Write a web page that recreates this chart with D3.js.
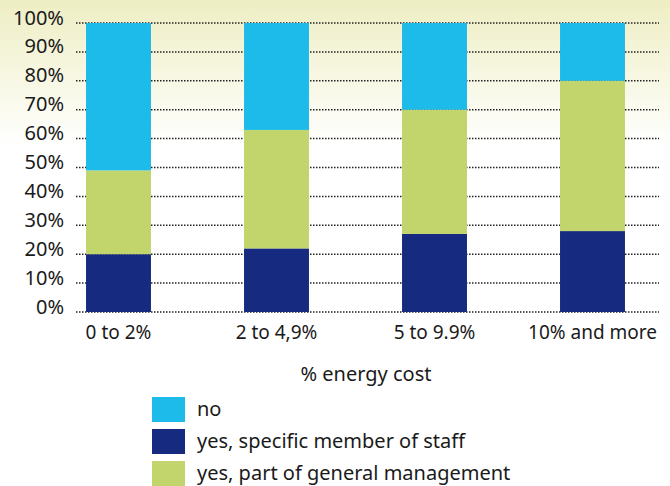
<!DOCTYPE html>
<html>
<head>
<meta charset="utf-8">
<script src="https://cdn.jsdelivr.net/npm/d3@7"></script>
<style>
  html, body { margin: 0; padding: 0; }
  body { width: 670px; height: 486px; overflow: hidden; }
  text { font-family: "Noto Sans", "Open Sans", sans-serif; fill: #1a1a1a; }
</style>
</head>
<body>
<div id="chart"></div>
<script>
var width = 670, height = 486;

// data
var categories = ["0 to 2%", "2 to 4,9%", "5 to 9.9%", "10% and more"];
var staff   = [20, 22, 27, 28];   // yes, specific member of staff
var general = [29, 41, 43, 52];   // yes, part of general management
var no      = [51, 37, 30, 20];   // no
var yTicks  = [0, 10, 20, 30, 40, 50, 60, 70, 80, 90, 100];
var seriesKeys   = ["staff", "general", "no"];
var legendKeys   = ["no", "staff", "general"];
var legendLabels = {no: "no", staff: "yes, specific member of staff", general: "yes, part of general management"};
var colors = {no: "#1dbbe9", staff: "#162a80", general: "#c2d46c"};

var rows = categories.map(function(c, i) {
  return {cat: c, staff: staff[i], general: general[i], no: no[i]};
});

var svg = d3.select("#chart").append("svg")
  .attr("width", width)
  .attr("height", height);

// soft yellow fade at the top
var grad = svg.append("defs").append("linearGradient")
  .attr("id", "bg").attr("x1", 0).attr("y1", 0).attr("x2", 0).attr("y2", 1);
grad.append("stop").attr("offset", "0%").attr("stop-color", "#eeeec4");
grad.append("stop").attr("offset", "30%").attr("stop-color", "#ffffff");
grad.append("stop").attr("offset", "100%").attr("stop-color", "#ffffff");
svg.append("rect").attr("width", width).attr("height", height).attr("fill", "url(#bg)");

var x = d3.scaleBand()
  .domain(categories)
  .range([39.5, 671.5])
  .paddingInner(0.589)
  .paddingOuter(0.2945);

var y = d3.scaleLinear()
  .domain([0, 100])
  .range([312, 23]);

// grid lines
svg.append("g").selectAll("line")
  .data(yTicks)
  .join("line")
  .attr("x1", 76).attr("x2", 659)
  .attr("y1", d => y(d)).attr("y2", d => y(d))
  .attr("stroke", "#222")
  .attr("stroke-width", 1.5)
  .attr("stroke-dasharray", "1.5,1.5");

// y tick labels
svg.append("g").selectAll("text")
  .data(yTicks)
  .join("text")
  .attr("x", 64)
  .attr("y", d => y(d) + 1.5)
  .attr("text-anchor", "end")
  .attr("font-size", 20)
  .text(d => d + "%");

var stack = d3.stack().keys(seriesKeys)(rows);

svg.append("g").selectAll("g")
  .data(stack)
  .join("g")
  .attr("fill", d => colors[d.key])
  .selectAll("rect")
  .data(d => d)
  .join("rect")
  .attr("x", d => x(d.data.cat))
  .attr("width", x.bandwidth())
  .attr("y", d => y(d[1]))
  .attr("height", d => y(d[0]) - y(d[1]));

// category labels
svg.append("g").selectAll("text")
  .data(categories)
  .join("text")
  .attr("x", d => x(d) + x.bandwidth() / 2)
  .attr("y", 339)
  .attr("text-anchor", "middle")
  .attr("font-size", 19)
  .text(d => d);

svg.append("text")
  .attr("x", 366)
  .attr("y", 381)
  .attr("text-anchor", "middle")
  .attr("font-size", 20)
  .text("% energy cost");

// legend
var leg = svg.append("g").selectAll("g")
  .data(legendKeys)
  .join("g")
  .attr("transform", (d, i) => `translate(152, ${397 + i * 32})`);
leg.append("rect")
  .attr("width", 33).attr("height", 25)
  .attr("fill", d => colors[d]);
leg.append("text")
  .attr("x", 45).attr("y", 19)
  .attr("font-size", 20)
  .text(d => legendLabels[d]);
</script>
</body>
</html>
